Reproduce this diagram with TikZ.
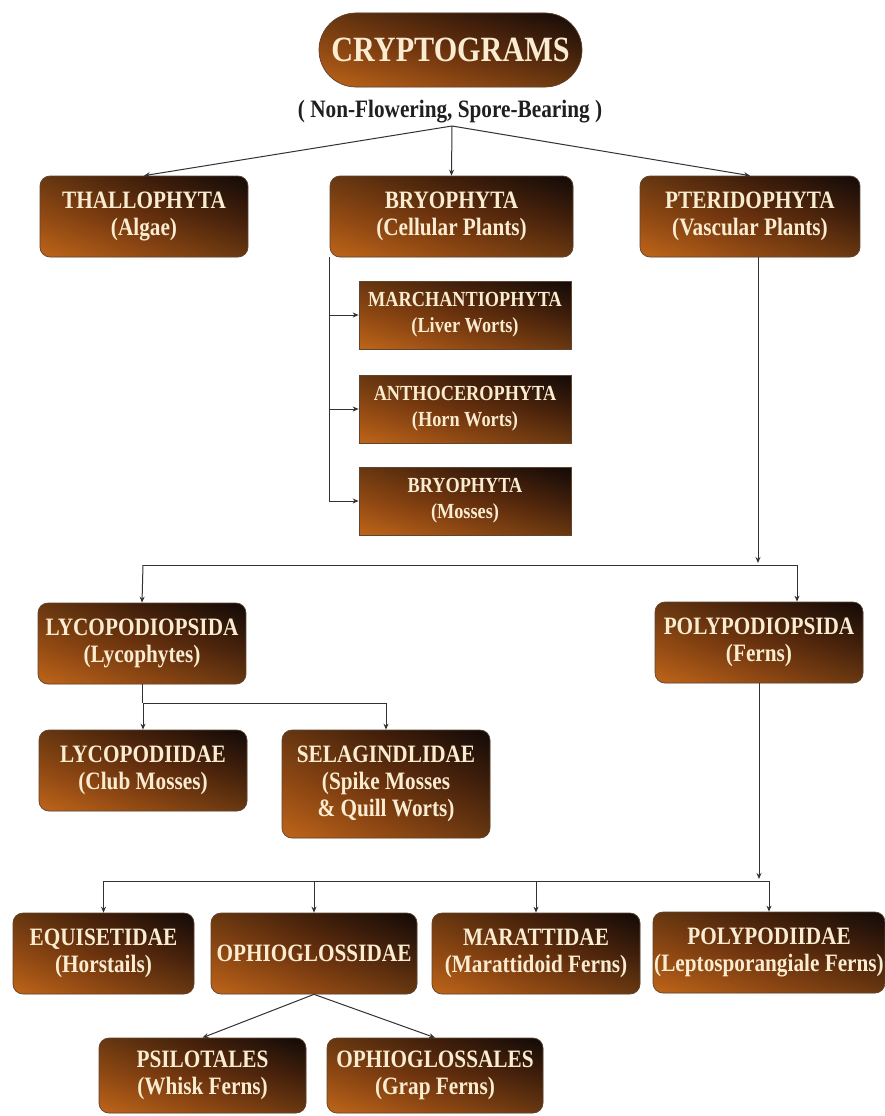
\documentclass[tikz,border=0pt]{standalone}
\usepackage{fontspec}
\setmainfont{Liberation Serif}[FakeStretch=0.85]
\usetikzlibrary{arrows.meta}

\definecolor{boxlow}{RGB}{192,102,26}
\definecolor{boxmid}{RGB}{104,49,14}
\definecolor{boxtop}{RGB}{18,10,8}
\definecolor{boxtext}{RGB}{250,236,208}
\definecolor{linegray}{RGB}{50,50,50}
\definecolor{boxedge}{RGB}{95,68,48}

\tikzset{
  % brown tile: orange in the lower left corner, near black in the upper right
  taxon/.style={left color=boxlow, right color=boxtop, middle color=boxmid,
    path picture={\shade[bottom color=boxlow, top color=boxtop, middle color=boxmid,
        fill opacity=0.5]
      (path picture bounding box.south west) rectangle (path picture bounding box.north east);},
    draw=boxedge, line width=0.7pt, rounded corners=10pt,
    text=boxtext, align=center, inner sep=0pt,
    font=\bfseries\fontsize{25}{27}\selectfont},
  subtaxon/.style={taxon, sharp corners, font=\bfseries\fontsize{21.5}{26}\selectfont},
  wire/.style={draw=linegray, line width=1pt},
  conn/.style={wire, -{Stealth[length=6pt,width=5pt]}},
}

\begin{document}
\begin{tikzpicture}[x=1pt,y=-1pt]
\fill[white] (0,0) rectangle (885,1116);
\useasboundingbox (0,0) rectangle (885,1116);

% root
\node[taxon, rounded corners=37pt, minimum width=263pt, minimum height=74pt,
      font=\bfseries\fontsize{35.5}{38}\selectfont] (root) at (450.5,50) {CRYPTOGRAMS};
\node[font=\bfseries\fontsize{25}{27}\selectfont, text=black!88, inner sep=0pt] (note) at (450,112)
  {( Non-Flowering, Spore-Bearing )};
\coordinate (hub) at (452,126);

% first level
\node[taxon, minimum width=208pt, minimum height=81pt] (thal) at (144,216.5) {THALLOPHYTA\\(Algae)};
\node[taxon, minimum width=243pt, minimum height=81pt] (bry) at (451.5,216.5) {BRYOPHYTA\\(Cellular Plants)};
\node[taxon, minimum width=220pt, minimum height=81pt] (pter) at (750,216.5) {PTERIDOPHYTA\\(Vascular Plants)};

% bryophyte divisions
\node[subtaxon, minimum width=212pt, minimum height=68pt] (mar) at (465,315) {MARCHANTIOPHYTA\\(Liver Worts)};
\node[subtaxon, minimum width=212pt, minimum height=68pt] (ant) at (465,409) {ANTHOCEROPHYTA\\(Horn Worts)};
\node[subtaxon, minimum width=212pt, minimum height=68pt] (mos) at (465,501) {BRYOPHYTA\\(Mosses)};

% vascular classes
\node[taxon, minimum width=208pt, minimum height=81pt] (lyc) at (142,643.5) {LYCOPODIOPSIDA\\(Lycophytes)};
\node[taxon, minimum width=208pt, minimum height=81pt] (polyps) at (759,642.5) {POLYPODIOPSIDA\\(Ferns)};

% lycophyte subclasses
\node[taxon, minimum width=208pt, minimum height=81pt] (lycid) at (143,770.5) {LYCOPODIIDAE\\(Club Mosses)};
\node[taxon, minimum width=208pt, minimum height=108pt] (sel) at (386,784) {SELAGINDLIDAE\\(Spike Mosses\\\& Quill Worts)};

% fern subclasses
\node[taxon, minimum width=181pt, minimum height=81pt] (equi) at (103.5,953.5) {EQUISETIDAE\\(Horstails)};
\node[taxon, minimum width=206pt, minimum height=81pt] (ophid) at (314,953.5) {OPHIOGLOSSIDAE};
\node[taxon, minimum width=208pt, minimum height=81pt] (mara) at (536,953.5) {MARATTIDAE\\(Marattidoid Ferns)};
\node[taxon, minimum width=232pt, minimum height=81pt] (polyid) at (769,952.5) {POLYPODIIDAE\\(Leptosporangiale Ferns)};

% ophioglossid orders
\node[taxon, minimum width=207pt, minimum height=75pt] (psil) at (202.5,1075.5) {PSILOTALES\\(Whisk Ferns)};
\node[taxon, minimum width=216pt, minimum height=75pt] (ophal) at (435,1075.5) {OPHIOGLOSSALES\\(Grap Ferns)};

% connectors: root
\draw[conn] (hub) -- (thal.north);
\draw[conn] (hub) -- (bry.north);
\draw[conn] (hub) -- (pter.north);

% connectors: bryophytes
\draw[conn] (bry.south west) |- (mar.west);
\draw[conn] (bry.south west) |- (ant.west);
\draw[conn] (bry.south west) |- (mos.west);

% connectors: pteridophytes
\coordinate (pb) at (758,565);
\coordinate (bl) at (143,565);
\coordinate (br) at (797,565);
\draw[conn, shorten >=2pt] (pter.south -| pb) -- (pb);
\draw[wire] (bl) -- (br);
\draw[conn] (bl) -- (lyc.north);
\draw[conn] (br) -- (br |- polyps.north);

% connectors: lycophytes
\coordinate (lb) at (143,703);
\draw[wire] (lyc.south) -- (lyc.south |- lb);
\draw[wire] (lycid.north |- lb) -- (sel.north |- lb);
\draw[conn] (lycid.north |- lb) -- (lycid.north);
\draw[conn] (sel.north |- lb) -- (sel.north);

% connectors: ferns
\coordinate (fb) at (759,881);
\draw[conn, shorten >=2pt] (polyps.south) -- (polyps.south |- fb);
\draw[wire] (equi.north |- fb) -- (polyid.north |- fb);
\draw[conn] (equi.north |- fb) -- (equi.north);
\draw[conn] (ophid.north |- fb) -- (ophid.north);
\draw[conn] (mara.north |- fb) -- (mara.north);
\draw[conn] (polyid.north |- fb) -- (polyid.north);

% connectors: ophioglossids
\draw[conn] (ophid.south) -- (psil.north);
\draw[conn] (ophid.south) -- (ophal.north);
\end{tikzpicture}
\end{document}
